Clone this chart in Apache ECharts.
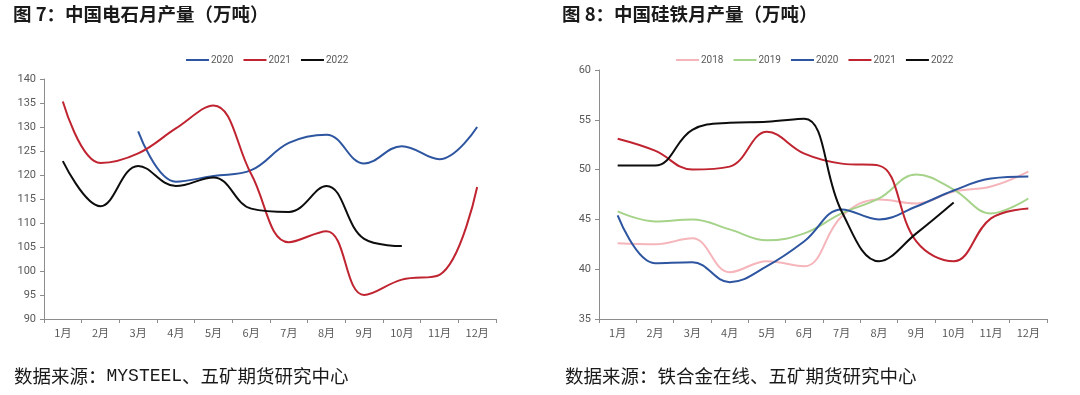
<!DOCTYPE html>
<html>
<head>
<meta charset="utf-8">
<script src="https://cdn.jsdelivr.net/npm/echarts@6/dist/echarts.min.js"></script>
<style>
html,body{margin:0;padding:0;background:#fff;}
#c{width:1080px;height:395px;}
</style>
</head>
<body>
<div id="c"></div>
<script>
// Categories
const months = ['1月','2月','3月','4月','5月','6月','7月','8月','9月','10月','11月','12月'];

// Figure 7: calcium carbide monthly output (10k t)
const carbide2020 = [null, null, 129.1, 118.6, 119.8, 121.0, 126.7, 128.4, 122.4, 126.0, 123.3, 130.0];
const carbide2021 = [135.3, 122.5, 124.5, 129.7, 134.5, 120.2, 106.0, 108.3, 95.0, 98.2, 99.2, 117.5];
const carbide2022 = [122.9, 113.5, 121.9, 117.7, 119.5, 113.0, 112.3, 117.7, 106.7, 105.2, null, null];

// Figure 8: ferrosilicon monthly output (10k t)
const fesi2018 = [42.6, 42.5, 43.1, 39.7, 40.8, 40.3, 45.3, 47.0, 46.6, 47.8, 48.3, 49.8];
const fesi2019 = [45.8, 44.8, 45.0, 44.0, 42.9, 43.6, 45.6, 47.1, 49.5, 48.0, 45.6, 47.1];
const fesi2020 = [45.4, 40.6, 40.7, 38.7, 40.3, 42.8, 46.0, 45.0, 46.3, 47.9, 49.1, 49.3];
const fesi2021 = [53.1, 51.9, 50.0, 50.3, 53.8, 51.6, 50.6, 50.4, 42.8, 40.8, 45.1, 46.1];
const fesi2022 = [50.4, 50.4, 54.0, 54.7, 54.8, 55.1, 45.8, 40.8, 43.6, 46.7, null, null];

const yTicks1 = {min: 90, max: 140, interval: 5};
const yTicks2 = {min: 35, max: 60, interval: 5};

const C = {
  pink: '#F5B5BA', green: '#A6D38A', blue: '#2D55A0', red: '#BF2430', black: '#0D0D0D'
};
const axisColor = '#8C8C8C';
const labelColor = '#595959';
const cjk = '"Noto Sans CJK SC", "Noto Sans", sans-serif';
const mono = '"Liberation Mono", "DejaVu Sans Mono", monospace';

function xAxis(gi){
  return {
    type: 'category', gridIndex: gi, data: months, boundaryGap: true,
    axisLine: {show: true, lineStyle: {color: axisColor, width: 1}},
    axisTick: {show: true, length: 4, lineStyle: {color: axisColor}},
    axisLabel: {color: labelColor, fontSize: 11, margin: 8, fontFamily: cjk}
  };
}
function yAxis(gi, t){
  return {
    type: 'value', gridIndex: gi, min: t.min, max: t.max, interval: t.interval,
    axisLine: {show: true, lineStyle: {color: axisColor, width: 1}},
    axisTick: {show: true, length: 4, lineStyle: {color: axisColor}},
    splitLine: {show: false},
    axisLabel: {color: labelColor, fontSize: 11, margin: 8, fontFamily: 'Roboto, "Noto Sans", sans-serif'}
  };
}
function line(name, data, color, xi, w){
  return {
    name, type: 'line', data, xAxisIndex: xi, yAxisIndex: xi,
    smooth: 0.4, symbol: 'none', connectNulls: false,
    lineStyle: {color, width: w || 2}, itemStyle: {color},
    animation: false
  };
}
const footStyle = {fontSize: 18.5, fontWeight: 'normal', color: '#1a1a1a', fontFamily: cjk,
  rich: {m: {fontSize: 18, fontFamily: mono, color: '#1a1a1a'}}};

const chart = echarts.init(document.getElementById('c'), null, {renderer: 'canvas'});
chart.setOption({
  backgroundColor: '#fff',
  animation: false,
  title: [
    {text: '图 7：中国电石月产量（万吨）', left: 8, top: 0,
     textStyle: {fontSize: 18.5, fontWeight: 'bold', color: '#1a1a1a', fontFamily: cjk}},
    {text: '图 8：中国硅铁月产量（万吨）', left: 557, top: 0,
     textStyle: {fontSize: 18.5, fontWeight: 'bold', color: '#1a1a1a', fontFamily: cjk}},
    {text: '数据来源：{m|MYSTEEL}、五矿期货研究中心', left: 9, top: 362, textStyle: footStyle},
    {text: '数据来源：铁合金在线、五矿期货研究中心', left: 560, top: 362, textStyle: footStyle}
  ],
  legend: [
    {data: ['2020','2021','2022'], left: 181, top: 50,
     icon: 'rect', itemWidth: 23, itemHeight: 2, itemGap: 10,
     textStyle: {color: labelColor, fontSize: 10, fontFamily: 'Roboto, sans-serif', padding: [0,0,0,-3]},
     selectedMode: false},
    {data: ['2018 ','2019 ','2020 ','2021 ','2022 '], left: 671, top: 50,
     icon: 'rect', itemWidth: 23, itemHeight: 2, itemGap: 10,
     textStyle: {color: labelColor, fontSize: 10, fontFamily: 'Roboto, sans-serif', padding: [0,0,0,-3]},
     selectedMode: false,
     formatter: n => n.trim()}
  ],
  grid: [
    {left: 44, top: 79, width: 452, height: 240},
    {left: 599, top: 70, width: 448, height: 249}
  ],
  xAxis: [xAxis(0), xAxis(1)],
  yAxis: [yAxis(0, yTicks1), yAxis(1, yTicks2)],
  series: [
    line('2020', carbide2020, C.blue, 0),
    line('2021', carbide2021, C.red, 0),
    line('2022', carbide2022, C.black, 0),
    line('2018 ', fesi2018, C.pink, 1),
    line('2019 ', fesi2019, C.green, 1),
    line('2020 ', fesi2020, C.blue, 1),
    line('2021 ', fesi2021, C.red, 1),
    line('2022 ', fesi2022, C.black, 1)
  ]
});
</script>
</body>
</html>
